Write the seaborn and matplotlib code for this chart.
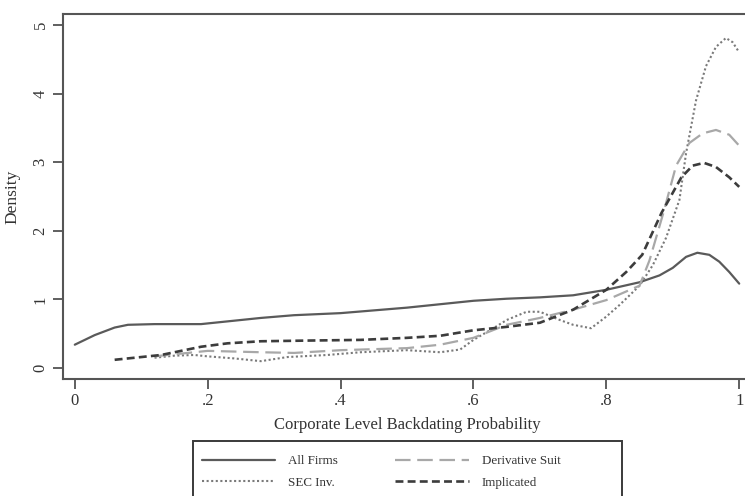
import matplotlib
matplotlib.use("Agg")
import matplotlib.pyplot as plt
from matplotlib.patches import Rectangle
import seaborn as sns
import pandas as pd

# ---- data ----
all_x = [0.00, 0.03, 0.06, 0.08, 0.12, 0.19, 0.24, 0.28, 0.33, 0.40, 0.45, 0.50, 0.55,
         0.60, 0.65, 0.70, 0.75, 0.80, 0.85, 0.88, 0.90, 0.92, 0.937, 0.955, 0.97, 0.985, 1.00]
all_y = [0.34, 0.48, 0.59, 0.63, 0.64, 0.64, 0.69, 0.73, 0.77, 0.80, 0.84, 0.88, 0.93,
         0.98, 1.01, 1.03, 1.06, 1.14, 1.25, 1.35, 1.46, 1.62, 1.68, 1.65, 1.55, 1.40, 1.23]

sec_x = [0.12, 0.15, 0.18, 0.20, 0.24, 0.28, 0.32, 0.38, 0.43, 0.50, 0.55, 0.58, 0.60,
         0.63, 0.65, 0.68, 0.70, 0.73, 0.75, 0.777, 0.80, 0.82, 0.85, 0.87, 0.89, 0.91,
         0.92, 0.935, 0.95, 0.965, 0.98, 0.99, 1.00]
sec_y = [0.15, 0.18, 0.19, 0.17, 0.14, 0.10, 0.16, 0.19, 0.23, 0.26, 0.23, 0.27, 0.41,
         0.58, 0.70, 0.82, 0.82, 0.70, 0.63, 0.58, 0.75, 0.92, 1.20, 1.50, 1.90, 2.45,
         3.13, 3.90, 4.40, 4.68, 4.81, 4.75, 4.60]

der_x = [0.12, 0.16, 0.20, 0.28, 0.33, 0.40, 0.50, 0.55, 0.60, 0.65, 0.70, 0.75, 0.80,
         0.85, 0.865, 0.887, 0.905, 0.925, 0.945, 0.965, 0.985, 1.00]
der_y = [0.17, 0.21, 0.25, 0.23, 0.22, 0.26, 0.29, 0.34, 0.44, 0.63, 0.73, 0.85, 0.99,
         1.20, 1.57, 2.30, 2.95, 3.28, 3.42, 3.47, 3.40, 3.24]

imp_x = [0.06, 0.13, 0.19, 0.23, 0.28, 0.35, 0.43, 0.50, 0.55, 0.60, 0.65, 0.70, 0.75,
         0.80, 0.83, 0.854, 0.883, 0.913, 0.93, 0.947, 0.965, 0.985, 1.00]
imp_y = [0.12, 0.19, 0.31, 0.36, 0.39, 0.40, 0.41, 0.44, 0.47, 0.55, 0.60, 0.66, 0.85,
         1.14, 1.40, 1.65, 2.26, 2.78, 2.95, 2.99, 2.93, 2.78, 2.64]

series_names = ["All Firms", "SEC Inv.", "Derivative Suit", "Implicated"]
x_ticks = [0, 0.2, 0.4, 0.6, 0.8, 1.0]
x_tick_labels = ["0", ".2", ".4", ".6", ".8", "1"]
y_ticks = [0, 1, 2, 3, 4, 5]
y_tick_labels = ["0", "1", "2", "3", "4", "5"]

# ---- style ----
sns.set_style("ticks")
plt.rcParams["font.family"] = ["Liberation Serif", "DejaVu Serif"]

W, H = 745, 496
fig = plt.figure(figsize=(W / 100, H / 100), dpi=100)
ax = fig.add_axes([62.5 / W, (H - 379) / H, 690 / W, (379 - 14) / H])

frames = [
    pd.DataFrame({"x": all_x, "y": all_y}),
    pd.DataFrame({"x": sec_x, "y": sec_y}),
    pd.DataFrame({"x": der_x, "y": der_y}),
    pd.DataFrame({"x": imp_x, "y": imp_y}),
]
styles = [
    dict(color="#5a5a5a", lw=1.6, ls="-"),
    dict(color="#7a7a7a", lw=1.5, ls=(0, (1, 1.2))),
    dict(color="#a8a8a8", lw=1.6, ls=(0, (7, 3))),
    dict(color="#3c3c3c", lw=1.9, ls=(0, (3, 1.6))),
]
for df, name, st in zip(frames, series_names, styles):
    sns.lineplot(data=df, x="x", y="y", ax=ax, label=name, color=st["color"],
                 linewidth=st["lw"], linestyle=st["ls"], sort=False, legend=True)

ax.set_xlim(-0.0185, 1.02)
ax.set_ylim(-0.16, 5.16)
ax.set_xticks(x_ticks)
ax.set_xticklabels(x_tick_labels)
ax.set_yticks(y_ticks)
ax.set_yticklabels(y_tick_labels, rotation=90, va="center")
ax.tick_params(axis="both", direction="out", length=7, width=1.2, color="#444444",
               labelsize=12, labelcolor="#333333", pad=3)

for side in ["left", "bottom", "top", "right"]:
    ax.spines[side].set_visible(True)
    ax.spines[side].set_color("#555555")
    ax.spines[side].set_linewidth(1.5)

ax.set_xlabel("Corporate Level Backdating Probability", fontsize=12, color="#333333", labelpad=6)
ax.set_ylabel("Density", fontsize=12.5, color="#333333", labelpad=9)

# legend entries (frame drawn separately as a box that runs off the bottom edge)
leg = ax.legend(loc="upper left", bbox_to_anchor=(202 / W, 1 - 455 / H),
                bbox_transform=fig.transFigure, borderaxespad=0, borderpad=0,
                ncol=2, frameon=False, fontsize=9.4, handlelength=5.6,
                columnspacing=4.4, handletextpad=1.0, labelspacing=0.72)
for t in leg.get_texts():
    t.set_color("#333333")

box = Rectangle((193 / W, -0.1), (622 - 193) / W, (H - 441) / H + 0.1,
                transform=fig.transFigure, fill=False, edgecolor="#3a3a3a",
                linewidth=1.4, zorder=5)
fig.add_artist(box)

fig.savefig("out.png", dpi=100)
